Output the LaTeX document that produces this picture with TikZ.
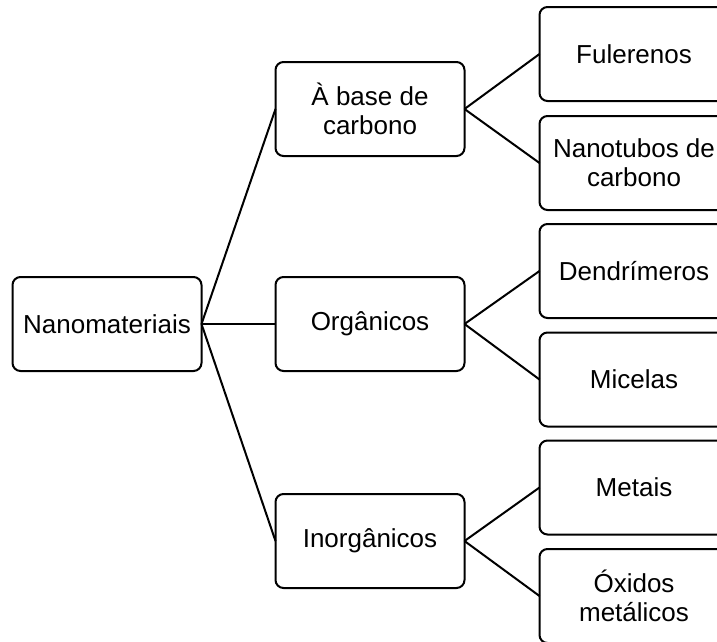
\documentclass[tikz,border=0pt]{standalone}
\usepackage{fontspec}
\setmainfont{Liberation Sans}
\begin{document}
\begin{tikzpicture}[x=1pt,y=-1pt,line width=2pt,
        box/.style={draw=black,fill=white,rounded corners=8pt,align=center,
            minimum width=189pt,minimum height=94pt,outer sep=0pt,inner sep=2pt,
            font=\fontsize{26}{29}\selectfont}]
        \useasboundingbox (0,0) rectangle (717,641);
        \node[box] (0) at (107,324){Nanomateriais};
        \node[box] (1) at (370,109){À base de\\carbono};
        \node[box] (2) at (370,324){Orgânicos};
        \node[box] (3) at (370,541){Inorgânicos};
        \node[box] (4) at (634,54){Fulerenos};
        \node[box] (5) at (634,163){Nanotubos de\\carbono};
        \node[box] (6) at (634,271){Dendrímeros};
        \node[box] (7) at (634,379.5){Micelas};
        \node[box] (8) at (634,487.5){Metais};
        \node[box] (9) at (634,596){Óxidos\\metálicos};
        \draw (0.east) -- (1.west);
        \draw (0.east) -- (2.west);
        \draw (0.east) -- (3.west);
        \draw (1.east) -- (4.west);
        \draw (1.east) -- (5.west);
        \draw (2.east) -- (6.west);
        \draw (2.east) -- (7.west);
        \draw (3.east) -- (8.west);
        \draw (3.east) -- (9.west);
    \end{tikzpicture}
\end{document}
